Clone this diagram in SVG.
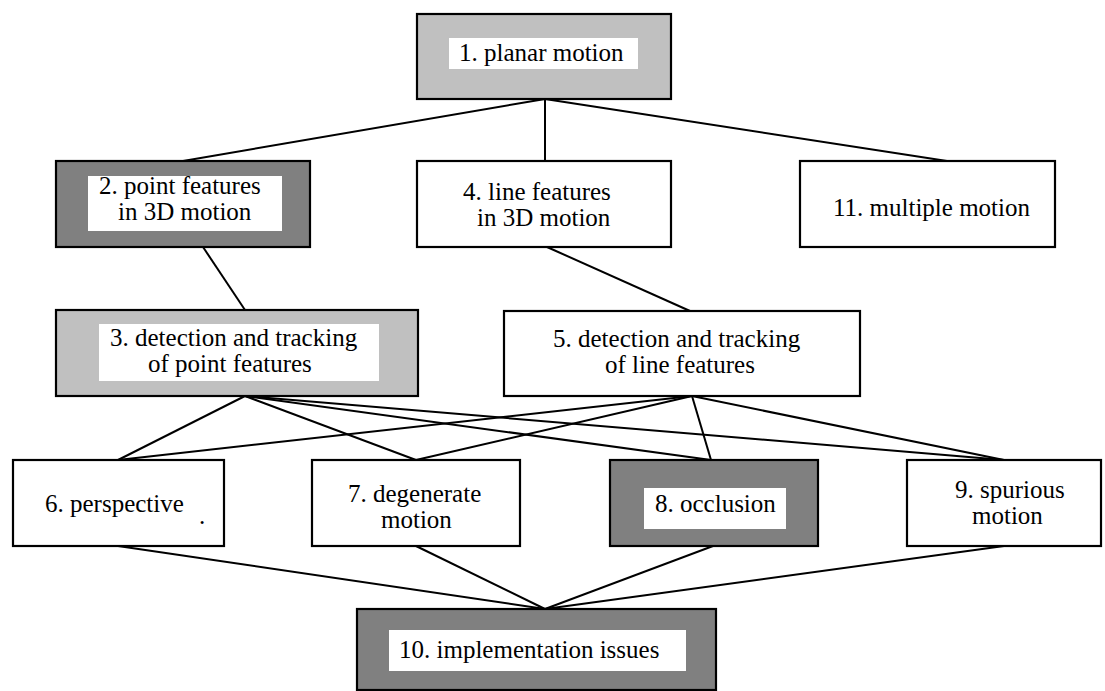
<svg xmlns="http://www.w3.org/2000/svg" width="1105" height="691" viewBox="0 0 1105 691">
<style>
.box{stroke:#000;stroke-width:2.2}
.lt{fill:#c0c0c0}
.dk{fill:#808080}
.wh{fill:#fff}
.in{fill:#fff;stroke:none}
#connectors line{stroke:#000;stroke-width:2}
</style>
<rect width="1105" height="691" fill="#fff"/>
<g id="connectors">
<line x1="545" y1="99" x2="183" y2="161"/>
<line x1="545" y1="99" x2="545" y2="161"/>
<line x1="545" y1="99" x2="947" y2="161"/>
<line x1="203" y1="247" x2="245" y2="310"/>
<line x1="547" y1="247" x2="690" y2="311"/>
<line x1="245" y1="396" x2="118" y2="460"/>
<line x1="245" y1="396" x2="416" y2="460"/>
<line x1="245" y1="396" x2="711" y2="460"/>
<line x1="245" y1="396" x2="1004" y2="460"/>
<line x1="692" y1="396" x2="118" y2="460"/>
<line x1="692" y1="396" x2="416" y2="460"/>
<line x1="692" y1="396" x2="711" y2="460"/>
<line x1="692" y1="396" x2="1004" y2="460"/>
<line x1="118" y1="546" x2="545" y2="609"/>
<line x1="416" y1="546" x2="545" y2="609"/>
<line x1="713" y1="546" x2="545" y2="609"/>
<line x1="1004" y1="546" x2="545" y2="609"/>
</g>
<g font-family="'Liberation Serif', 'Times New Roman', serif" font-size="25" fill="#000">
<g id="n1">
<rect class="box lt" x="417" y="14" width="254" height="85"/>
<rect class="in" x="449" y="38" width="189" height="31"/>
<text x="459" y="61">1. planar motion</text>
</g>
<g id="n2">
<rect class="box dk" x="56" y="161" width="254" height="86"/>
<rect class="in" x="88" y="176" width="194" height="55"/>
<text x="99" y="194">2. point features</text>
<text x="118" y="220">in 3D motion</text>
</g>
<g id="n4">
<rect class="box wh" x="417" y="161" width="254" height="86"/>
<text x="463" y="200">4. line features</text>
<text x="477" y="226">in 3D motion</text>
</g>
<g id="n11">
<rect class="box wh" x="800" y="161" width="255" height="86"/>
<text x="833" y="216">11. multiple motion</text>
</g>
<g id="n3">
<rect class="box lt" x="56" y="310" width="362" height="86"/>
<rect class="in" x="99" y="324" width="280" height="57"/>
<text x="110" y="346">3. detection and tracking</text>
<text x="148" y="372">of point features</text>
</g>
<g id="n5">
<rect class="box wh" x="504" y="311" width="356" height="85"/>
<text x="553" y="347">5. detection and tracking</text>
<text x="605" y="373">of line features</text>
</g>
<g id="n6">
<rect class="box wh" x="13" y="460" width="211" height="86"/>
<text x="45" y="512">6. perspective</text>
<text x="199" y="524">.</text>
</g>
<g id="n7">
<rect class="box wh" x="312" y="460" width="208" height="86"/>
<text x="348" y="502">7. degenerate</text>
<text x="381" y="528">motion</text>
</g>
<g id="n8">
<rect class="box dk" x="610" y="460" width="208" height="86"/>
<rect class="in" x="644" y="488" width="142" height="41"/>
<text x="655" y="512">8. occlusion</text>
</g>
<g id="n9">
<rect class="box wh" x="907" y="460" width="194" height="86"/>
<text x="955" y="498">9. spurious</text>
<text x="972" y="524">motion</text>
</g>
<g id="n10">
<rect class="box dk" x="357" y="609" width="359" height="81"/>
<rect class="in" x="389" y="630" width="297" height="41"/>
<text x="399" y="658">10. implementation issues</text>
</g>
</g>
</svg>
